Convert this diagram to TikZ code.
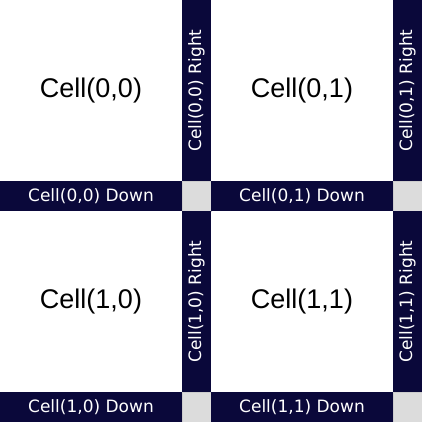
\documentclass[tikz,border=0pt]{standalone}
\usepackage{fontspec}
\setmainfont{Liberation Sans}
\newfontfamily\barfont{DejaVu Sans}
\usepackage{tikz}

\definecolor{barnavy}{RGB}{10,8,58}
\definecolor{gapgray}{RGB}{220,220,220}

\begin{document}
\begin{tikzpicture}[x=1pt, y=-1pt,
  cellbox/.style={minimum width=182pt, minimum height=181pt, inner sep=0pt,
    font=\fontsize{27}{27}\selectfont},
  barlabel/.style={fill=barnavy, text=white, inner sep=0pt,
    font=\barfont\fontsize{17}{17}\selectfont},
  rightbar/.style={barlabel, rotate=90, minimum width=181pt, minimum height=29pt},
  downbar/.style={barlabel, minimum width=182pt, minimum height=30pt},
  gapbox/.style={fill=gapgray, draw=gray!40, line width=0.6pt,
    minimum width=29pt, minimum height=30pt, inner sep=0pt}]
  \useasboundingbox[fill=white] (0,0) rectangle (422,422);

  % cells with their right and down bars
  \foreach \i in {0,1} {
    \foreach \j in {0,1} {
      \node[cellbox] (cell\i\j) at (211*\j+91, 211*\i+90.5) {Cell(\i,\j)};
      \node[rightbar] (right\i\j) at (211*\j+196.5, 211*\i+90.5) {Cell(\i,\j) Right};
      \node[downbar] (down\i\j) at (211*\j+91, 211*\i+196) {Cell(\i,\j) Down};
      \node[gapbox] (gap\i\j) at (211*\j+196.5, 211*\i+196) {};
    }
  }
\end{tikzpicture}
\end{document}
